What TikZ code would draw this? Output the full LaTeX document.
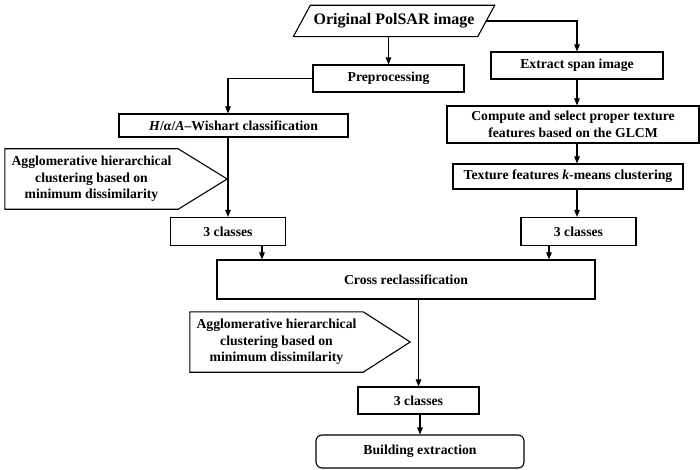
\documentclass[tikz,border=0pt]{standalone}
\usepackage{fontspec}
\setmainfont{Liberation Serif}
\usetikzlibrary{arrows.meta, calc}

\begin{document}
\begin{tikzpicture}[
  x=1pt, y=-1pt,
  every node/.style={font=\fontsize{13.7}{16.5}\selectfont\bfseries},
  box/.style={
    draw, line width=1.1pt, inner sep=0pt,
    align=center
  },
  inbox/.style={inner sep=0pt, font=\fontsize{16}{18}\selectfont\bfseries},
  endbox/.style={box, rounded corners=6pt},
  note/.style={inner sep=0pt, align=center, minimum width=173pt, minimum height=60pt},
  outline/.style={line width=1.1pt, line join=miter},
  arrow/.style={-{Triangle[length=7pt,width=5.5pt]}, line width=1.1pt},
]
\useasboundingbox (0,0) rectangle (700,470);

% Input
\node[inbox, minimum width=184pt, minimum height=31pt] (orig) at (394,21) {Original PolSAR image};
\draw[outline] ([xshift=-8.5pt]orig.south west) -- ([xshift=8.5pt]orig.north west)
  -- ([xshift=8.5pt]orig.north east) -- ([xshift=-8.5pt]orig.south east) -- cycle;

% Left branch
\node[box, minimum width=151pt, minimum height=27pt] (prep) at (388.5,78.5) {Preprocessing};
\node[box, minimum width=229pt, minimum height=23pt] (hwc) at (233.5,125.5) {\textit{H}/\textit{α}/\textit{A}–Wishart classification};
\node[box, minimum width=115pt, minimum height=28pt] (clsl) at (228,231.5) {3 classes};
\node[note] (agg1) at (91.5,179) {Agglomerative hierarchical\\clustering based on\\minimum dissimilarity};

% Right branch
\node[box, minimum width=172pt, minimum height=27pt] (span) at (577,65.5) {Extract span image};
\node[box, minimum width=252pt, minimum height=37pt] (glcm) at (573,124.5) {Compute and select proper texture\\features based on the GLCM};
\node[box, minimum width=230pt, minimum height=25pt] (kmeans) at (568,176.5) {Texture features \textit{k}-means clustering};
\node[box, minimum width=115pt, minimum height=28pt] (clsr) at (578.5,231.5) {3 classes};

% Fusion
\node[box, minimum width=378pt, minimum height=39pt] (cross) at (406,279.5) {Cross reclassification};
\node[note] (agg2) at (276.5,342) {Agglomerative hierarchical\\clustering based on\\minimum dissimilarity};
\node[box, minimum width=121pt, minimum height=27pt] (clsb) at (418.5,400.5) {3 classes};
\node[endbox, minimum width=208pt, minimum height=33pt] (build) at (420,451.5) {Building extraction};

% Pentagon outlines
\draw[outline] (agg1.north west) -- (agg1.north east) -- ([xshift=49pt]agg1.east)
  -- (agg1.south east) -- (agg1.south west) -- cycle;
\draw[outline] (agg2.north west) -- (agg2.north east) -- ([xshift=47pt]agg2.east)
  -- (agg2.south east) -- (agg2.south west) -- cycle;

% Arrows
\draw[arrow] (prep |- orig.south) -- (prep.north);
\draw[arrow] (orig.east) -| (span.north);
\draw[arrow] (prep.west) -| (clsl |- hwc.north);
\draw[arrow] (clsl |- hwc.south) -- (clsl.north);
\draw[arrow] ([xshift=34pt]clsl.south) -- ([xshift=34pt]clsl.south |- cross.north);
\draw[arrow] (span.south) -- (span.south |- glcm.north);
\draw[arrow] (span.south |- glcm.south) -- (span.south |- kmeans.north);
\draw[arrow] (span.south |- kmeans.south) -- (span.south |- clsr.north);
\draw[arrow] ([xshift=-29.5pt]clsr.south) -- ([xshift=-29.5pt]clsr.south |- cross.north);
\draw[arrow] (clsb |- cross.south) -- (clsb.north);
\draw[arrow] ([xshift=1.5pt]clsb.south) -- ([xshift=1.5pt]clsb.south |- build.north);

\end{tikzpicture}
\end{document}
